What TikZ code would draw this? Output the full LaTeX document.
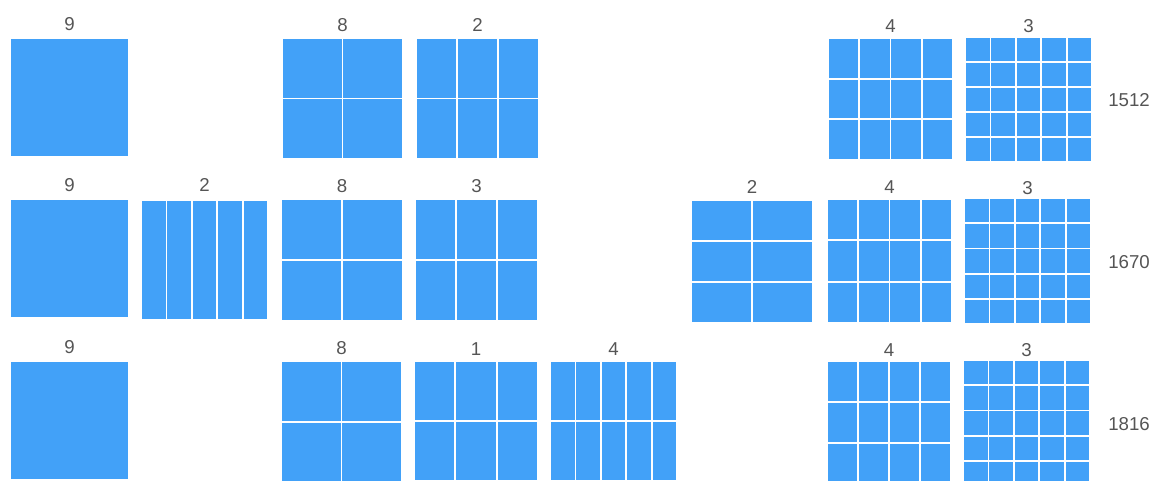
\documentclass[tikz,border=0pt]{standalone}
\usepackage{fontspec}
\setmainfont{Liberation Sans}
\definecolor{TileBlue}{HTML}{42A1F8}
\definecolor{LabelGrey}{HTML}{555555}
\usetikzlibrary{positioning}

\tikzset{
  tile/.style={fill=TileBlue, draw=white, line width=1.35pt},
  count/.style={font=\fontsize{14}{16}\selectfont, text=LabelGrey, inner sep=0pt},
}

% panel: x0, y0, x1, y1, columns, rows, label y, label text
\newcommand{\panel}[8]{%
  \pgfmathsetmacro\cw{(#3-#1)/#5}%
  \pgfmathsetmacro\ch{(#4-#2)/#6}%
  \foreach \i in {1,...,#5}{%
    \foreach \j in {1,...,#6}{%
      \draw[tile] ({#1+(\i-1)*\cw},{#2+(\j-1)*\ch}) rectangle ++(\cw,\ch);
    }
  }
  \node[count] at ({(#1+#3)/2},#7) {#8};
}

\begin{document}
\begin{tikzpicture}[x=0.75pt, y=-0.75pt]
        \useasboundingbox (0,0) rectangle (1151,480);
        \clip (0,0) rectangle (1151,480);

        % Row 1512
        \panel{10}{38}{129}{157}{1}{1}{24}{9}
        \panel{282}{38}{403}{159}{2}{2}{25}{8}
        \panel{416}{38}{539}{159}{3}{2}{25}{2}
        \panel{828}{38}{953}{160}{4}{3}{26}{4}
        \panel{965}{37}{1092}{162}{5}{5}{26}{3}
        \node[count] (t1512) at (1129,100) {1512};

        % Row 1670
        \panel{10}{199}{129}{318}{1}{1}{185}{9}
        \panel{141}{200}{268}{320}{5}{1}{185}{2}
        \panel{281}{199}{403}{321}{2}{2}{186}{8}
        \panel{415}{199}{538}{321}{3}{2}{186}{3}
        \panel{691}{200}{813}{323}{2}{3}{187}{2}
        \panel{827}{199}{952}{323}{4}{3}{187}{4}
        \panel{964}{198}{1091}{324}{5}{5}{188}{3}
        \node[count] (t1670) at (1129,262) {1670};

        % Row 1816
        \panel{10}{361}{129}{480}{1}{1}{347}{9}
        \panel{281}{361}{402}{483}{2}{2}{348}{8}
        \panel{414}{361}{538}{481}{3}{2}{349}{1}
        \panel{550}{361}{677}{481}{5}{2}{349}{4}
        \panel{827}{361}{951}{484}{4}{3}{350}{4}
        \panel{963}{360}{1090}{486}{5}{5}{350}{3}
        \node[count] (t1816) at (1129,424) {1816};
\end{tikzpicture}
\end{document}
